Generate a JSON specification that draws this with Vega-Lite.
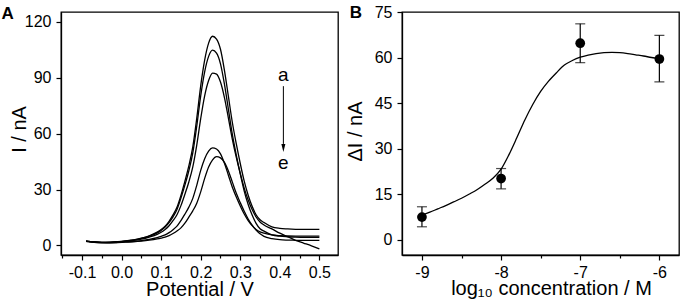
{
  "$schema": "https://vega.github.io/schema/vega-lite/v6.json",
  "padding": {"left": 0, "top": 3, "right": 2, "bottom": 2},
  "spacing": 64,
  "bounds": "flush",
  "config": {
    "font": "Liberation Sans",
    "view": {"stroke": "black", "strokeWidth": 1.3},
    "axis": {"domainColor": "black", "domainWidth": 1.3, "tickColor": "black", "tickWidth": 1.2, "labelColor": "black", "titleColor": "black", "labelFont": "Liberation Sans", "titleFont": "Liberation Sans", "labelFontSize": 16, "titleFontSize": 20, "titleFontWeight": "normal", "grid": false, "labelPadding": 5, "labelOverlap": false, "labelBound": false, "labelFlush": false},
    "title": {"font": "Liberation Sans", "fontSize": 17, "fontWeight": "bold", "color": "black", "anchor": "start", "frame": "group", "baseline": "alphabetic"}
  },
  "datasets": {
    "cv": [
      {"v":-0.09,"i":2.35,"c":"a"},{"v":-0.07,"i":1.9,"c":"a"},{"v":-0.05,"i":1.7,"c":"a"},{"v":-0.03,"i":1.8,"c":"a"},{"v":-0.01,"i":2.1,"c":"a"},{"v":0.01,"i":2.5,"c":"a"},{"v":0.03,"i":3.0,"c":"a"},{"v":0.05,"i":3.9,"c":"a"},{"v":0.07,"i":5.2,"c":"a"},{"v":0.09,"i":7.2,"c":"a"},
      {"v":0.10,"i":8.6,"c":"a"},{"v":0.11,"i":10.4,"c":"a"},{"v":0.12,"i":13.0,"c":"a"},{"v":0.13,"i":16.4,"c":"a"},{"v":0.14,"i":20.5,"c":"a"},{"v":0.15,"i":26.9,"c":"a"},{"v":0.16,"i":34.5,"c":"a"},{"v":0.17,"i":42.7,"c":"a"},{"v":0.18,"i":52.9,"c":"a"},{"v":0.19,"i":68.2,"c":"a"},{"v":0.20,"i":85.7,"c":"a"},{"v":0.21,"i":99.5,"c":"a"},{"v":0.22,"i":108.6,"c":"a"},{"v":0.23,"i":112.3,"c":"a"},{"v":0.24,"i":110.8,"c":"a"},{"v":0.25,"i":105.3,"c":"a"},{"v":0.26,"i":94.0,"c":"a"},{"v":0.27,"i":80.0,"c":"a"},{"v":0.28,"i":66.0,"c":"a"},{"v":0.29,"i":54.5,"c":"a"},{"v":0.30,"i":44.0,"c":"a"},{"v":0.31,"i":34.5,"c":"a"},{"v":0.32,"i":27.0,"c":"a"},{"v":0.33,"i":21.0,"c":"a"},{"v":0.34,"i":16.5,"c":"a"},{"v":0.35,"i":13.8,"c":"a"},{"v":0.36,"i":12.3,"c":"a"},
      {"v":0.38,"i":10.0,"c":"a"},{"v":0.40,"i":9.2,"c":"a"},{"v":0.42,"i":8.9,"c":"a"},{"v":0.44,"i":8.7,"c":"a"},{"v":0.46,"i":8.6,"c":"a"},{"v":0.48,"i":8.6,"c":"a"},{"v":0.50,"i":8.6,"c":"a"},

      {"v":-0.09,"i":2.3,"c":"b"},{"v":-0.07,"i":1.9,"c":"b"},{"v":-0.05,"i":1.7,"c":"b"},{"v":-0.03,"i":1.7,"c":"b"},{"v":-0.01,"i":2.0,"c":"b"},{"v":0.01,"i":2.4,"c":"b"},{"v":0.03,"i":2.9,"c":"b"},{"v":0.05,"i":3.8,"c":"b"},{"v":0.07,"i":5.0,"c":"b"},{"v":0.09,"i":6.8,"c":"b"},
      {"v":0.10,"i":8.1,"c":"b"},{"v":0.11,"i":9.9,"c":"b"},{"v":0.12,"i":12.3,"c":"b"},{"v":0.13,"i":15.4,"c":"b"},{"v":0.14,"i":19.3,"c":"b"},{"v":0.15,"i":25.4,"c":"b"},{"v":0.16,"i":32.4,"c":"b"},{"v":0.17,"i":40.1,"c":"b"},{"v":0.18,"i":49.7,"c":"b"},{"v":0.19,"i":64.0,"c":"b"},{"v":0.20,"i":80.3,"c":"b"},{"v":0.21,"i":93.2,"c":"b"},{"v":0.22,"i":101.5,"c":"b"},{"v":0.23,"i":104.8,"c":"b"},{"v":0.24,"i":103.2,"c":"b"},{"v":0.25,"i":97.5,"c":"b"},{"v":0.26,"i":86.6,"c":"b"},{"v":0.27,"i":73.1,"c":"b"},{"v":0.28,"i":59.6,"c":"b"},{"v":0.29,"i":48.5,"c":"b"},{"v":0.30,"i":38.4,"c":"b"},{"v":0.31,"i":29.2,"c":"b"},{"v":0.32,"i":22.0,"c":"b"},{"v":0.33,"i":16.3,"c":"b"},{"v":0.34,"i":11.9,"c":"b"},{"v":0.35,"i":9.0,"c":"b"},{"v":0.36,"i":7.7,"c":"b"},
      {"v":0.38,"i":5.7,"c":"b"},{"v":0.40,"i":5.0,"c":"b"},{"v":0.42,"i":4.7,"c":"b"},{"v":0.44,"i":4.5,"c":"b"},{"v":0.46,"i":4.4,"c":"b"},{"v":0.48,"i":4.4,"c":"b"},{"v":0.50,"i":4.4,"c":"b"},

      {"v":-0.09,"i":2.3,"c":"c"},{"v":-0.07,"i":1.9,"c":"c"},{"v":-0.05,"i":1.7,"c":"c"},{"v":-0.03,"i":1.6,"c":"c"},{"v":-0.01,"i":1.9,"c":"c"},{"v":0.01,"i":2.3,"c":"c"},{"v":0.03,"i":2.7,"c":"c"},{"v":0.05,"i":3.4,"c":"c"},{"v":0.07,"i":4.5,"c":"c"},{"v":0.09,"i":6.0,"c":"c"},
      {"v":0.10,"i":7.1,"c":"c"},{"v":0.11,"i":8.6,"c":"c"},{"v":0.12,"i":10.6,"c":"c"},{"v":0.13,"i":13.3,"c":"c"},{"v":0.14,"i":16.5,"c":"c"},{"v":0.15,"i":21.4,"c":"c"},{"v":0.16,"i":27.5,"c":"c"},{"v":0.17,"i":34.1,"c":"c"},{"v":0.18,"i":42.2,"c":"c"},{"v":0.19,"i":53.9,"c":"c"},{"v":0.20,"i":68.1,"c":"c"},{"v":0.21,"i":80.3,"c":"c"},{"v":0.22,"i":88.5,"c":"c"},{"v":0.23,"i":92.5,"c":"c"},{"v":0.24,"i":92.0,"c":"c"},{"v":0.25,"i":87.7,"c":"c"},{"v":0.26,"i":79.4,"c":"c"},{"v":0.27,"i":68.4,"c":"c"},{"v":0.28,"i":57.0,"c":"c"},{"v":0.29,"i":47.3,"c":"c"},{"v":0.30,"i":38.7,"c":"c"},{"v":0.31,"i":30.8,"c":"c"},{"v":0.32,"i":24.4,"c":"c"},{"v":0.33,"i":19.3,"c":"c"},{"v":0.34,"i":15.3,"c":"c"},{"v":0.35,"i":12.6,"c":"c"},{"v":0.36,"i":11.0,"c":"c"},
      {"v":0.38,"i":8.9,"c":"c"},{"v":0.40,"i":6.6,"c":"c"},{"v":0.42,"i":4.7,"c":"c"},{"v":0.44,"i":2.8,"c":"c"},{"v":0.46,"i":1.3,"c":"c"},{"v":0.48,"i":-0.2,"c":"c"},{"v":0.50,"i":-1.8,"c":"c"},

      {"v":-0.09,"i":2.2,"c":"d"},{"v":-0.07,"i":1.75,"c":"d"},{"v":-0.05,"i":1.5,"c":"d"},{"v":-0.03,"i":1.5,"c":"d"},{"v":-0.01,"i":1.65,"c":"d"},{"v":0.01,"i":1.9,"c":"d"},{"v":0.03,"i":2.2,"c":"d"},{"v":0.05,"i":2.65,"c":"d"},{"v":0.07,"i":3.3,"c":"d"},{"v":0.09,"i":4.25,"c":"d"},
      {"v":0.10,"i":4.9,"c":"d"},{"v":0.11,"i":5.7,"c":"d"},{"v":0.12,"i":6.9,"c":"d"},{"v":0.13,"i":8.5,"c":"d"},{"v":0.14,"i":10.4,"c":"d"},{"v":0.15,"i":13.4,"c":"d"},{"v":0.16,"i":16.8,"c":"d"},{"v":0.17,"i":20.6,"c":"d"},{"v":0.18,"i":25.3,"c":"d"},{"v":0.19,"i":32.3,"c":"d"},{"v":0.20,"i":40.3,"c":"d"},{"v":0.21,"i":46.6,"c":"d"},{"v":0.22,"i":50.7,"c":"d"},{"v":0.23,"i":52.4,"c":"d"},{"v":0.24,"i":51.8,"c":"d"},{"v":0.25,"i":49.2,"c":"d"},{"v":0.26,"i":44.1,"c":"d"},{"v":0.27,"i":37.7,"c":"d"},{"v":0.28,"i":31.3,"c":"d"},{"v":0.29,"i":26.0,"c":"d"},{"v":0.30,"i":21.2,"c":"d"},{"v":0.31,"i":16.9,"c":"d"},{"v":0.32,"i":13.4,"c":"d"},{"v":0.33,"i":10.7,"c":"d"},{"v":0.34,"i":8.6,"c":"d"},{"v":0.35,"i":7.3,"c":"d"},{"v":0.36,"i":6.6,"c":"d"},
      {"v":0.38,"i":5.65,"c":"d"},{"v":0.40,"i":5.3,"c":"d"},{"v":0.42,"i":5.15,"c":"d"},{"v":0.44,"i":5.05,"c":"d"},{"v":0.46,"i":5.0,"c":"d"},{"v":0.48,"i":5.0,"c":"d"},{"v":0.50,"i":5.0,"c":"d"},

      {"v":-0.09,"i":2.2,"c":"e"},{"v":-0.07,"i":1.7,"c":"e"},{"v":-0.05,"i":1.45,"c":"e"},{"v":-0.03,"i":1.4,"c":"e"},{"v":-0.01,"i":1.56,"c":"e"},{"v":0.01,"i":1.8,"c":"e"},{"v":0.03,"i":2.0,"c":"e"},{"v":0.05,"i":2.35,"c":"e"},{"v":0.07,"i":2.85,"c":"e"},{"v":0.09,"i":3.55,"c":"e"},
      {"v":0.10,"i":4.0,"c":"e"},{"v":0.11,"i":4.5,"c":"e"},{"v":0.12,"i":5.3,"c":"e"},{"v":0.13,"i":6.45,"c":"e"},{"v":0.14,"i":7.8,"c":"e"},{"v":0.15,"i":9.45,"c":"e"},{"v":0.16,"i":12.0,"c":"e"},{"v":0.17,"i":15.2,"c":"e"},{"v":0.18,"i":18.6,"c":"e"},{"v":0.19,"i":22.7,"c":"e"},{"v":0.20,"i":28.8,"c":"e"},{"v":0.21,"i":36.0,"c":"e"},{"v":0.22,"i":42.1,"c":"e"},{"v":0.23,"i":46.0,"c":"e"},{"v":0.24,"i":47.7,"c":"e"},{"v":0.25,"i":47.0,"c":"e"},{"v":0.26,"i":44.6,"c":"e"},{"v":0.27,"i":40.0,"c":"e"},{"v":0.28,"i":34.0,"c":"e"},{"v":0.29,"i":28.0,"c":"e"},{"v":0.30,"i":23.0,"c":"e"},{"v":0.31,"i":18.4,"c":"e"},{"v":0.32,"i":14.2,"c":"e"},{"v":0.33,"i":10.9,"c":"e"},{"v":0.34,"i":8.25,"c":"e"},{"v":0.35,"i":6.25,"c":"e"},{"v":0.36,"i":4.9,"c":"e"},
      {"v":0.38,"i":3.7,"c":"e"},{"v":0.40,"i":3.1,"c":"e"},{"v":0.42,"i":2.9,"c":"e"},{"v":0.44,"i":2.8,"c":"e"},{"v":0.46,"i":2.7,"c":"e"},{"v":0.48,"i":2.7,"c":"e"},{"v":0.50,"i":2.7,"c":"e"}
    ],
    "fit": [
      {"x":-9.0,"y":8.0},{"x":-8.9,"y":9.0},{"x":-8.8,"y":10.1},{"x":-8.7,"y":11.2},{"x":-8.6,"y":12.4},{"x":-8.5,"y":13.6},{"x":-8.4,"y":15.0},{"x":-8.3,"y":16.5},{"x":-8.2,"y":18.3},{"x":-8.1,"y":20.3},{"x":-8.0,"y":23.2},{"x":-7.9,"y":28.0},{"x":-7.8,"y":33.6},{"x":-7.7,"y":39.4},{"x":-7.6,"y":44.5},{"x":-7.5,"y":48.8},{"x":-7.4,"y":52.2},{"x":-7.3,"y":55.0},{"x":-7.2,"y":57.5},{"x":-7.1,"y":59.0},{"x":-7.0,"y":60.1},{"x":-6.9,"y":60.8},{"x":-6.8,"y":61.3},{"x":-6.7,"y":61.6},{"x":-6.6,"y":61.7},{"x":-6.5,"y":61.6},{"x":-6.4,"y":61.3},{"x":-6.3,"y":60.9},{"x":-6.2,"y":60.5},{"x":-6.1,"y":60.0},{"x":-6.0,"y":59.6}
    ],
    "pts": [
      {"x":-9,"y":7.4,"lo":4.2,"hi":10.8},
      {"x":-8,"y":20.1,"lo":16.7,"hi":23.4},
      {"x":-7,"y":64.7,"lo":58.3,"hi":71.1},
      {"x":-6,"y":59.5,"lo":52.0,"hi":67.3}
    ]
  },
  "hconcat": [
    {
      "width": 277,
      "height": 243,
      "title": {"text": "A", "dx": -59.4, "offset": -10.5},
      "resolve": {"axis": {"x": "independent"}},
      "layer": [
        {
          "data": {"name": "cv"},
          "mark": {"type": "line", "color": "black", "strokeWidth": 1.3, "interpolate": "monotone"},
          "encoding": {
            "x": {"field": "v", "type": "quantitative",
              "scale": {"domain": [-0.1532, 0.5471], "nice": false, "zero": false},
              "axis": {"orient": "bottom", "title": "Potential / V", "titleY": 40, "titleBaseline": "alphabetic", "format": ".1f", "labelOverlap": false, "tickSize": 5, "labelPadding": 4,
                "labelExpr": "datum.value < 0 ? '-' + format(-datum.value, '.1f') : format(datum.value, '.1f')",
                "values": [-0.1,0,0.1,0.2,0.3,0.4,0.5]}},
            "y": {"field": "i", "type": "quantitative", "title": "I / nA",
              "scale": {"domain": [-5.1, 125.3], "nice": false, "zero": false},
              "axis": {"title": "I / nA", "titleX": -36, "titleY": 117, "titleBaseline": "alphabetic", "labelOverlap": false,
                "values": [0,15,30,45,60,75,90,105,120],
                "labelExpr": "datum.value % 30 == 0 ? datum.label : ''",
                "tickSize": {"condition": {"test": "datum.value % 30 == 0", "value": 5}, "value": 3}}},
            "detail": {"field": "c", "type": "nominal"}
          }
        },
        {
          "data": {"values": [{"v": 0.409, "i": 88.2, "t": "a"}, {"v": 0.409, "i": 40.8, "t": "e"}]},
          "mark": {"type": "text", "fontSize": 19, "color": "black", "align": "center", "baseline": "alphabetic", "font": "Liberation Sans"},
          "encoding": {
            "x": {"field": "v", "type": "quantitative", "axis": null},
            "y": {"field": "i", "type": "quantitative", "title": "I / nA"},
            "text": {"field": "t", "type": "nominal"}
          }
        },
        {
          "data": {"values": [{"v": 0.409, "i": 85.5, "i2": 54.5}]},
          "mark": {"type": "rule", "color": "black", "strokeWidth": 1},
          "encoding": {
            "x": {"field": "v", "type": "quantitative",
              "axis": {"orient": "bottom", "title": null, "labels": false, "domain": false, "tickSize": 3,
                "values": [-0.15,-0.05,0.05,0.15,0.25,0.35,0.45]}},
            "y": {"field": "i", "type": "quantitative", "title": "I / nA"},
            "y2": {"field": "i2"}
          }
        },
        {
          "data": {"values": [{"v": 0.409, "i": 52.3}]},
          "mark": {"type": "point", "shape": "M-0.5,-1L0.5,-1L0,1Z", "filled": true, "color": "black", "opacity": 1, "size": 64},
          "encoding": {
            "x": {"field": "v", "type": "quantitative", "axis": null},
            "y": {"field": "i", "type": "quantitative", "title": "I / nA"}
          }
        }
      ]
    },
    {
      "width": 277,
      "height": 243,
      "title": {"text": "B", "dx": -52.3, "offset": -18.3},
      "layer": [
        {
          "data": {"name": "fit"},
          "mark": {"type": "line", "color": "black", "strokeWidth": 1.3, "interpolate": "monotone"},
          "encoding": {
            "x": {"field": "x", "type": "quantitative", "title": "log\u2081\u2080 concentration / M",
              "scale": {"domain": [-9.252, -5.752], "nice": false, "zero": false},
              "axis": {"title": "log\u2081\u2080 concentration / M", "titleX": 149, "titleY": 39, "titleBaseline": "alphabetic", "labelOverlap": false, "labelPadding": 4,
                "values": [-9,-8.5,-8,-7.5,-7,-6.5,-6],
                "labelExpr": "indexof([-9,-8,-7,-6], datum.value) >= 0 ? '-' + format(-datum.value, 'd') : ''",
                "tickSize": {"condition": {"test": "indexof([-9,-8,-7,-6], datum.value) >= 0", "value": 5}, "value": 3}}},
            "y": {"field": "y", "type": "quantitative", "title": "\u0394I / nA",
              "scale": {"domain": [-5.1, 75], "nice": false, "zero": false},
              "axis": {"title": "\u0394I / nA", "titleX": -40.3, "titleY": 119, "titleBaseline": "alphabetic", "labelOverlap": false,
                "values": [0,7.5,15,22.5,30,37.5,45,52.5,60,67.5,75],
                "labelExpr": "datum.value % 15 == 0 ? datum.label : ''",
                "tickSize": {"condition": {"test": "datum.value % 15 == 0", "value": 5}, "value": 3}}}
          }
        },
        {
          "data": {"name": "pts"},
          "mark": {"type": "errorbar", "color": "black", "thickness": 1.2, "ticks": {"size": 10, "thickness": 1.2, "color": "black"}},
          "encoding": {
            "x": {"field": "x", "type": "quantitative", "title": "log\u2081\u2080 concentration / M"},
            "y": {"field": "lo", "type": "quantitative", "title": "\u0394I / nA"},
            "y2": {"field": "hi"}
          }
        },
        {
          "data": {"name": "pts"},
          "mark": {"type": "point", "filled": true, "color": "black", "opacity": 1, "size": 95},
          "encoding": {
            "x": {"field": "x", "type": "quantitative", "title": "log\u2081\u2080 concentration / M"},
            "y": {"field": "y", "type": "quantitative", "title": "\u0394I / nA"}
          }
        }
      ]
    }
  ]
}
